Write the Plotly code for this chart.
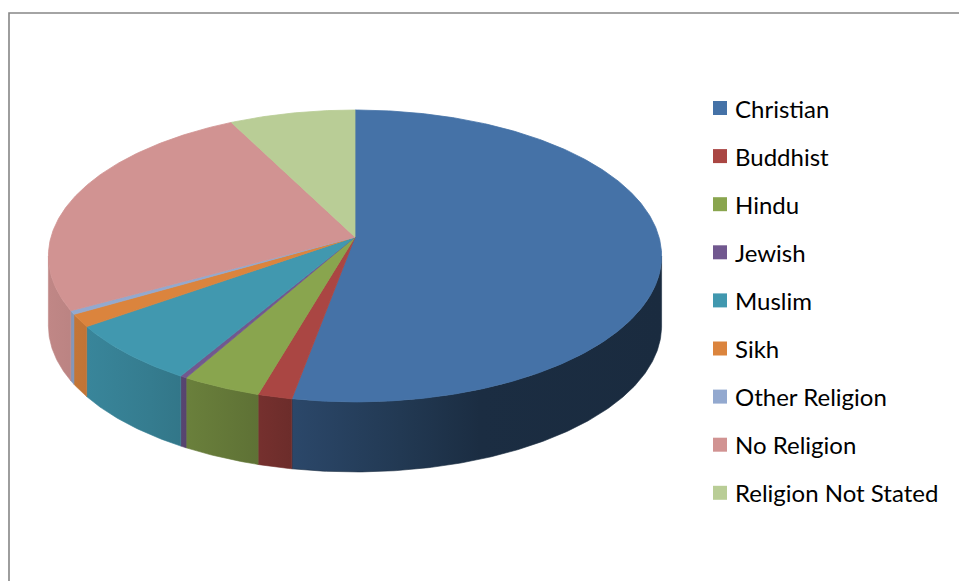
import numpy as np
import plotly.graph_objects as go

# Religion breakdown (% of population)
categories = ["Christian", "Buddhist", "Hindu", "Jewish", "Muslim", "Sikh",
              "Other Religion", "No Religion", "Religion Not Stated"]
shares = [52.9, 1.6, 3.7, 0.3, 6.7, 1.4, 0.4, 25.5, 7.5]
colors = ["#4572A7", "#AA4643", "#89A54E", "#71588F", "#4198AF", "#DB843D",
          "#93A9CF", "#D19392", "#B9CD96"]

W, H = 959, 581

# Tilted-disc geometry (pixel space, y grows downward)
CX, CY = 355.0, 237.0      # projected pie centre
RX, RY = 304.0, 143.5      # horizontal / vertical radii
PERSP = 0.13               # perspective foreshortening of the far edge
DEPTH = 70.0               # thickness of the disc

def project(theta):
    u, v = np.sin(theta), np.cos(theta)
    w = 1.0 + PERSP * v
    return CX + RX * u / w, CY - RY * v / w

def hex_rgb(h):
    h = h.lstrip("#")
    return tuple(int(h[i:i + 2], 16) for i in (0, 2, 4))

# side shading: lighter on the left, darker to the right
shade_x = [48, 150, 260, 295, 400, 480, 662]
shade_f = [0.92, 0.82, 0.69, 0.63, 0.50, 0.40, 0.38]

def side_scale(col):
    r, g, b = hex_rgb(col)
    x0, x1 = shade_x[0], shade_x[-1]
    stops = []
    for xs, f in zip(shade_x, shade_f):
        stops.append([(xs - x0) / (x1 - x0),
                      f"rgb({int(r * f)},{int(g * f)},{int(b * f)})"])
    return stops

def shade_at(col, x):
    r, g, b = hex_rgb(col)
    f = float(np.interp(x, shade_x, shade_f))
    return f"rgb({int(r * f)},{int(g * f)},{int(b * f)})"

fig = go.Figure()

total = float(sum(shares))
bounds = np.concatenate([[0.0], np.cumsum(shares) / total * 2 * np.pi])

# visible arc of the rim: between the left and right silhouette points
vis0 = np.pi - np.arccos(PERSP)
vis1 = np.pi + np.arccos(PERSP)

# rim (side) faces
for i, (name, col) in enumerate(zip(categories, colors)):
    a0, a1 = max(bounds[i], vis0), min(bounds[i + 1], vis1)
    if a1 <= a0:
        continue
    t = np.linspace(a0, a1, max(8, int((a1 - a0) * 120)))
    xt, yt = project(t)
    xs = np.concatenate([xt, xt[::-1], xt[:1]])
    ys = np.concatenate([yt, yt[::-1] + DEPTH, yt[:1]])
    fig.add_trace(go.Scatter(
        x=xs, y=ys, mode="lines", fill="toself",
        line=dict(width=0.6, color=shade_at(col, float(np.mean(xt)))),
        fillgradient=dict(type="horizontal", colorscale=side_scale(col),
                          start=shade_x[0], stop=shade_x[-1]),
        hoverinfo="skip", showlegend=False))

# top faces
for i, (name, col) in enumerate(zip(categories, colors)):
    a0, a1 = bounds[i], bounds[i + 1]
    t = np.linspace(a0, a1, max(6, int((a1 - a0) * 120)))
    xt, yt = project(t)
    xs = np.concatenate([[CX], xt, [CX]])
    ys = np.concatenate([[CY], yt, [CY]])
    fig.add_trace(go.Scatter(
        x=xs, y=ys, mode="lines", fill="toself", fillcolor=col,
        line=dict(width=0.8, color=col),
        name=name, hovertemplate=f"{name}: {shares[i]}%<extra></extra>",
        showlegend=False))

# legend: coloured squares with labels
LEG_X, LEG_Y0, LEG_GAP = 720, 108, 48.1
leg_y = [LEG_Y0 + i * LEG_GAP for i in range(len(categories))]
fig.add_trace(go.Scatter(
    x=[LEG_X] * len(categories), y=leg_y, mode="markers",
    marker=dict(symbol="square", size=14, color=colors, line=dict(width=0)),
    hoverinfo="skip", showlegend=False))
for name, yv in zip(categories, leg_y):
    fig.add_annotation(x=LEG_X + 13, y=yv, text=name, showarrow=False,
                       xanchor="left", yanchor="middle",
                       font=dict(family="Lato", size=24, color="#000000"))

# chart-area frame
fig.add_shape(type="rect", x0=9, y0=13, x1=W + 5, y1=H + 5,
              line=dict(color="#868686", width=1.6), fillcolor="rgba(0,0,0,0)",
              layer="below")

fig.update_xaxes(range=[0, W], visible=False, fixedrange=True)
fig.update_yaxes(range=[H, 0], visible=False, fixedrange=True)
fig.update_layout(width=W, height=H, margin=dict(l=0, r=0, t=0, b=0),
                  paper_bgcolor="white", plot_bgcolor="white")

fig.write_html("out.html")
